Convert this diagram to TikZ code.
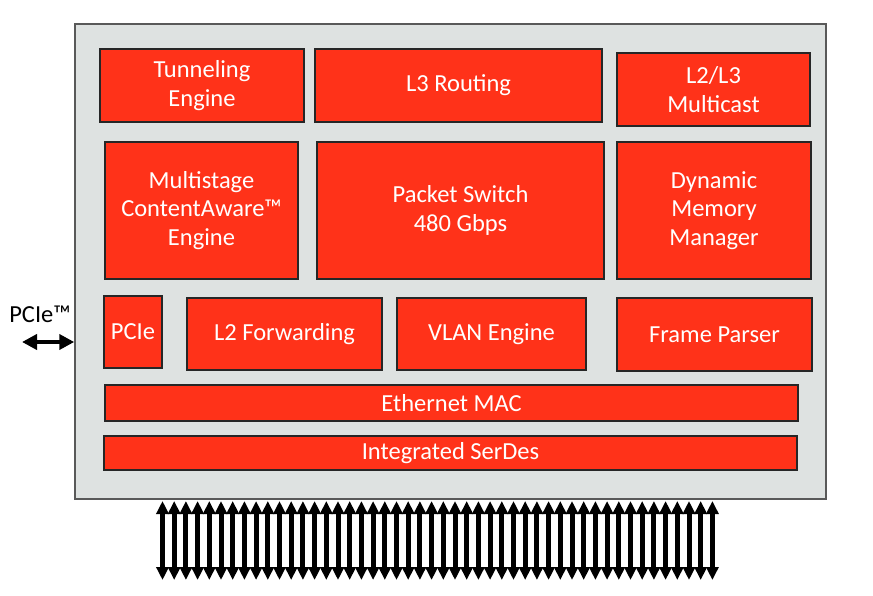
\documentclass[tikz,border=0pt]{standalone}
\usepackage{fontspec}
\setmainfont{Carlito}
\usetikzlibrary{arrows.meta}
\definecolor{chipgray}{HTML}{DEE2E1}
\definecolor{blockred}{HTML}{FF3219}
\tikzstyle{chip}=[draw=black!65, line width=1.5pt, fill=chipgray, inner sep=0]
\tikzstyle{block}=[draw=black!85, line width=1.4pt, fill=blockred, text=white, align=center, inner sep=0, font=\fontsize{24.5}{28.5}\selectfont]
\tikzstyle{bus}=[line width=5pt, {Triangle[width=12pt, length=13pt]}-{Triangle[width=12pt, length=13pt]}]
\tikzstyle{link}=[line width=4.5pt, {Triangle[width=15pt, length=15pt]}-{Triangle[width=15pt, length=15pt]}]

\begin{document}
\begin{tikzpicture}[x=1pt, y=-1pt]
\useasboundingbox (0, 0) rectangle (873, 596);

\node [chip, minimum width=751pt, minimum height=475pt] (chip) at (450.5, 261.5) {};

\node [block, minimum width=204pt, minimum height=73pt] (tun) at (202, 85.5) {Tunneling\\Engine};
\node [block, minimum width=287pt, minimum height=73pt] (l3r) at (458.5, 85.5) {L3 Routing};
\node [block, minimum width=193pt, minimum height=73pt] (mc) at (713.5, 89.5) {L2/L3\\Multicast};

\node [block, minimum width=193pt, minimum height=137pt] (cae) at (201.5, 210.5) {Multistage\\ContentAware™\\Engine};
\node [block, minimum width=287pt, minimum height=137pt] (sw) at (460.5, 210.5) {Packet Switch\\480 Gbps};
\node [block, minimum width=194pt, minimum height=137pt] (mmu) at (714, 210.5) {Dynamic\\Memory\\Manager};

\node [block, minimum width=58pt, minimum height=72pt] (pcie) at (133, 332) {PCIe};
\node [block, minimum width=195pt, minimum height=72pt] (l2f) at (284.5, 334) {L2 Forwarding};
\node [block, minimum width=189pt, minimum height=72pt] (vlan) at (491.5, 334) {VLAN Engine};
\node [block, minimum width=195pt, minimum height=73pt] (fp) at (714.5, 334.5) {Frame Parser};

\node [block, minimum width=693pt, minimum height=36pt] (mac) at (451.5, 403) {Ethernet MAC};
\node [block, minimum width=693pt, minimum height=34pt] (serdes) at (450.5, 453) {Integrated SerDes};

% host link
\node [font=\fontsize{24.5}{28.5}\selectfont] (host) at (40, 314) {PCIe™};
\coordinate (hostend) at (22, 342);
\draw [link] (hostend) -- (hostend -| chip.west);

% serdes lanes
\foreach \i in {0,...,47} {
  \coordinate (lt\i) at ({162.5+\i*11.7}, 501);
  \coordinate (lb\i) at ({162.5+\i*11.7}, 580);
  \draw [bus] (lt\i) -- (lb\i);
}

\end{tikzpicture}
\end{document}
